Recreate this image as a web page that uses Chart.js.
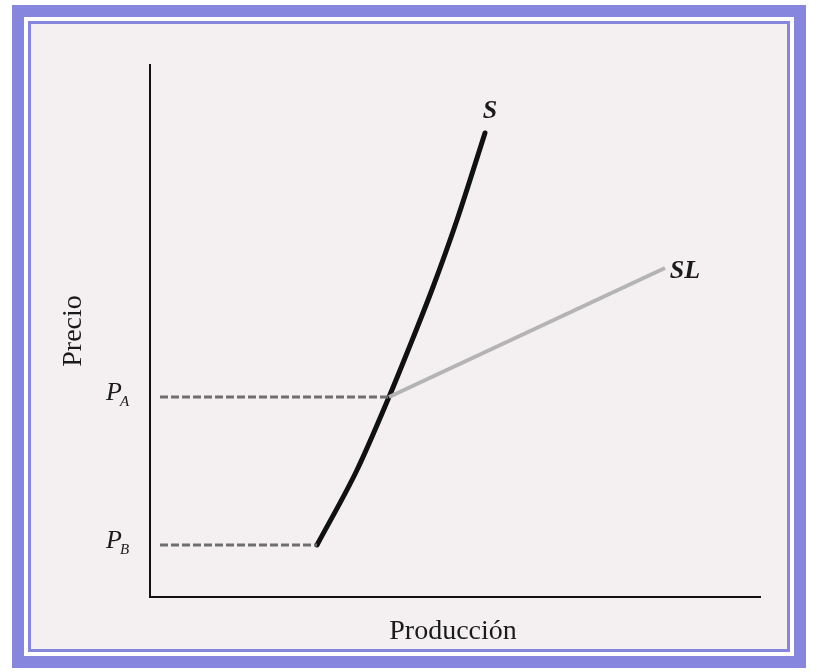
<!DOCTYPE html>
<html>
<head>
<meta charset="utf-8">
<script src="https://cdn.jsdelivr.net/npm/chart.js@4"></script>
<style>
  body { margin: 0; background: #ffffff; }
  #marco {
    position: absolute; left: 12px; top: 5px; width: 770px; height: 639px;
    border: 12px solid #8686de; background: #ffffff;
  }
  #interior {
    position: absolute; left: 4px; top: 4px; width: 756px; height: 625px;
    border: 3px solid #8686de; background: #f4f0f1;
  }
  #lienzo { position: absolute; left: 0; top: 0; width: 756px; height: 625px; }
</style>
</head>
<body>
<div id="marco"><div id="interior"><div id="lienzo"><canvas id="myChart"></canvas></div></div></div>
<script>
// Curva S (corto plazo) y SL (largo plazo), unidades del eje
const curvaS_x = [167, 207, 239, 257, 283, 307, 335];
const curvaS_y = [52, 127, 200, 244, 310, 377, 464];
const curvaSL_x = [239, 515];
const curvaSL_y = [200, 329];
// Líneas discontinuas de precio
const precioA_x = [10, 239];
const precioA_y = [200, 200];
const precioB_x = [10, 167];
const precioB_y = [52, 52];
// Etiquetas
const etiquetas = [
  { texto: "S", x: 340, y: 486 },
  { texto: "SL", x: 535, y: 326 }
];
const etiquetasPrecio = [
  { texto: "P", sub: "A", y: 200 },
  { texto: "P", sub: "B", y: 52 }
];
const tituloX = "Producción";
const tituloY = "Precio";

function puntos(xs, ys) {
  return xs.map((x, i) => ({ x: x, y: ys[i] }));
}

// Dibuja textos en coordenadas de datos
const textos = {
  id: 'textos',
  afterDraw(chart) {
    const ctx = chart.ctx;
    const sx = chart.scales.x;
    const sy = chart.scales.y;
    const area = chart.chartArea;
    ctx.save();
    ctx.fillStyle = '#1a1a1a';
    ctx.textBaseline = 'middle';
    ctx.textAlign = 'center';
    ctx.font = 'italic bold 26px "Liberation Serif", serif';
    etiquetas.forEach(e => {
      ctx.fillText(e.texto, sx.getPixelForValue(e.x), sy.getPixelForValue(e.y));
    });
    etiquetasPrecio.forEach(e => {
      const py = sy.getPixelForValue(e.y);
      ctx.textAlign = 'right';
      ctx.font = 'italic 26px "Liberation Serif", serif';
      ctx.fillText(e.texto, area.left - 28, py - 4);
      ctx.textAlign = 'left';
      ctx.font = 'italic 15px "Liberation Serif", serif';
      ctx.fillText(e.sub, area.left - 30, py + 5);
    });
    ctx.textAlign = 'center';
    ctx.font = '28px "Liberation Serif", serif';
    ctx.fillText(tituloX, (area.left + area.right) / 2 - 2, area.bottom + 35);
    ctx.translate(area.left - 76, (area.top + area.bottom) / 2);
    ctx.rotate(-Math.PI / 2);
    ctx.fillText(tituloY, 0, 0);
    ctx.restore();
  }
};

const ctx = document.getElementById('myChart');

new Chart(ctx, {
  type: 'line',
  data: {
    datasets: [
      {
        data: puntos(precioA_x, precioA_y),
        borderColor: '#6e6e6e', borderWidth: 3, borderDash: [8, 3],
        pointRadius: 0
      },
      {
        data: puntos(precioB_x, precioB_y),
        borderColor: '#6e6e6e', borderWidth: 3, borderDash: [8, 3],
        pointRadius: 0
      },
      {
        data: puntos(curvaSL_x, curvaSL_y),
        borderColor: '#b4b4b4', borderWidth: 4,
        pointRadius: 0
      },
      {
        data: puntos(curvaS_x, curvaS_y),
        borderColor: '#111111', borderWidth: 5,
        cubicInterpolationMode: 'monotone',
        borderCapStyle: 'round',
        pointRadius: 0
      }
    ]
  },
  options: {
    responsive: true,
    maintainAspectRatio: false,
    animation: false,
    layout: { padding: { left: 119, right: 27, top: 41, bottom: 52 } },
    plugins: { legend: { display: false }, tooltip: { enabled: false } },
    scales: {
      x: {
        type: 'linear', min: 0, max: 610,
        grid: { display: false },
        ticks: { display: false },
        border: { display: true, color: '#111111', width: 2 },
        afterFit: s => { s.height = 0; }
      },
      y: {
        type: 'linear', min: 0, max: 532,
        grid: { display: false },
        ticks: { display: false },
        border: { display: true, color: '#111111', width: 2 },
        afterFit: s => { s.width = 0; }
      }
    }
  },
  plugins: [textos]
});
</script>
</body>
</html>
